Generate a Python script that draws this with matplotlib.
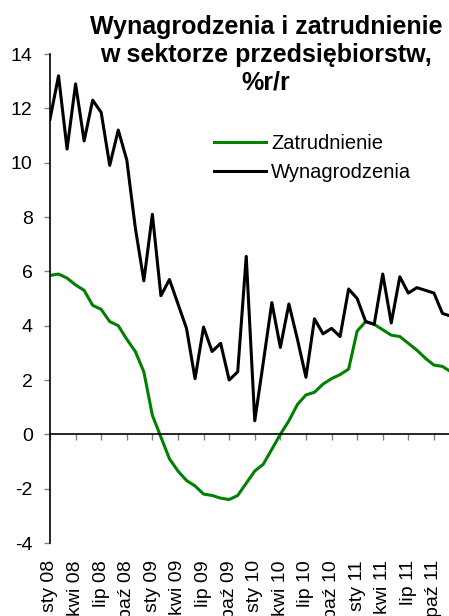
import matplotlib
matplotlib.use('Agg')
import matplotlib.pyplot as plt

plt.rcParams['font.family'] = ['Liberation Sans', 'DejaVu Sans']
plt.rcParams['axes.unicode_minus'] = False

# monthly data, Jan 2008 - Dec 2011
wynagrodzenia = [11.6, 13.2, 10.5, 12.9, 10.8, 12.3, 11.85, 9.9, 11.2, 10.1, 7.6, 5.65,
                 8.1, 5.1, 5.7, 4.8, 3.9, 2.05, 3.95, 3.05, 3.35, 2.0, 2.3, 6.55,
                 0.5, 2.65, 4.85, 3.2, 4.8, 3.5, 2.1, 4.25, 3.7, 3.9, 3.6, 5.35,
                 5.0, 4.15, 4.05, 5.9, 4.1, 5.8, 5.2, 5.4, 5.3, 5.2, 4.45, 4.35]
zatrudnienie = [5.85, 5.9, 5.75, 5.5, 5.3, 4.75, 4.6, 4.15, 4.0, 3.5, 3.05, 2.3,
                0.7, -0.1, -0.9, -1.35, -1.7, -1.9, -2.2, -2.25, -2.35, -2.4, -2.25, -1.8,
                -1.35, -1.1, -0.55, 0.0, 0.5, 1.1, 1.45, 1.55, 1.85, 2.05, 2.2, 2.4,
                3.8, 4.15, 4.05, 3.85, 3.65, 3.6, 3.35, 3.1, 2.8, 2.55, 2.5, 2.3]
x_labels = ['sty 08', 'kwi 08', 'lip 08', 'paź 08', 'sty 09', 'kwi 09', 'lip 09', 'paź 09',
            'sty 10', 'kwi 10', 'lip 10', 'paź 10', 'sty 11', 'kwi 11', 'lip 11', 'paź 11']

fig = plt.figure(figsize=(4.49, 6.16), dpi=100)
ax = fig.add_axes([50 / 449, 73 / 616, 401 / 449, 489 / 616])

months = list(range(len(wynagrodzenia)))
ax.plot(months, zatrudnienie, color='#008000', lw=2.2, label='Zatrudnienie')
ax.plot(months, wynagrodzenia, color='black', lw=2.2, label='Wynagrodzenia')

ax.set_xlim(0, 47)
ax.set_ylim(-4, 14)
ax.set_yticks(range(-4, 15, 2))

ax.spines['top'].set_visible(False)
ax.spines['right'].set_visible(False)
ax.spines['bottom'].set_position(('data', 0))
ax.spines['left'].set_linewidth(1.2)
ax.spines['bottom'].set_linewidth(1.2)

tick_pos = list(range(0, 48, 3))
ax.set_xticks(tick_pos)
ax.set_xticklabels([])
ax.tick_params(axis='x', direction='out', length=4.5, color='#808080', width=1)
ax.tick_params(axis='y', direction='out', length=4.5, color='#808080', width=1,
               labelsize=14, pad=8)

# labels sit below the plot, like the original (partly cut by the edge)
for p, lbl in zip(tick_pos, x_labels):
    ax.annotate(lbl, xy=(p, 0), xycoords=('data', 'axes fraction'),
                xytext=(0, -17), textcoords='offset pixels',
                rotation=90, ha='center', va='top', fontsize=14,
                annotation_clip=False)

fig.text(266 / 449, 1 - 15 / 616,
         'Wynagrodzenia i zatrudnienie\nw sektorze przedsiębiorstw,\n%r/r',
         ha='center', va='top', fontsize=18, fontweight='bold', linespacing=1.2)

ax.legend(loc='upper left', bbox_to_anchor=(164 / 401, 1 - 80 / 489), frameon=False,
          fontsize=14.5, handlelength=2.6, handletextpad=0.25, labelspacing=0.5,
          borderaxespad=0, borderpad=0)

fig.savefig('out.png', dpi=100)
